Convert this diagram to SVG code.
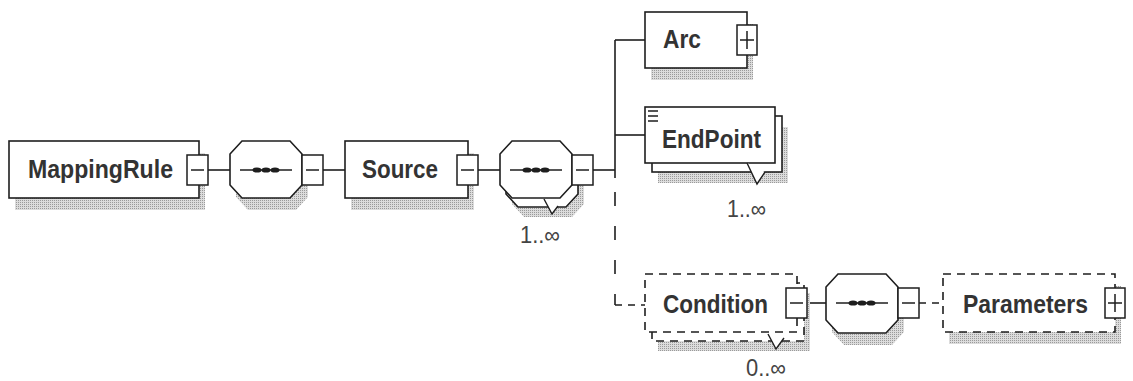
<svg xmlns="http://www.w3.org/2000/svg" width="1133" height="381" viewBox="0 0 1133 381">
<defs>
<pattern id="stip" width="2" height="2" patternUnits="userSpaceOnUse"><rect width="2" height="2" fill="#dcdcdc"/><rect width="1" height="1" fill="#9a9a9a"/></pattern>
</defs>
<style>
.bx{fill:#fff;stroke:#1e1e1e;stroke-width:1.6}
.dbx{fill:#fff;stroke:#1e1e1e;stroke-width:1.6;stroke-dasharray:8 6}
.sh{fill:url(#stip);stroke:none}
.btn{fill:#fff;stroke:#1e1e1e;stroke-width:1.5}
.sym{stroke:#1e1e1e;stroke-width:1.5;fill:none}
.ln{stroke:#1e1e1e;stroke-width:1.6;fill:none}
.dl{stroke:#1e1e1e;stroke-width:1.6;fill:none;stroke-dasharray:14 20}
.dl2{stroke:#1e1e1e;stroke-width:1.6;fill:none;stroke-dasharray:7 6}
.lbl{font-family:"Liberation Sans",Arial,sans-serif;font-weight:bold;font-size:26px;fill:#333}
.mul{font-family:"Liberation Sans",Arial,sans-serif;font-size:23px;fill:#444}
.dot{fill:#1e1e1e}
.tri{stroke:#1e1e1e;stroke-width:1.4;fill:#fff}
</style>

<g id="connectors">
<path class="ln" d="M208,170 H230"/>
<path class="ln" d="M323,170 H345"/>
<path class="ln" d="M478,170 H500"/>
<path class="ln" d="M593,170 H615"/>
<path class="ln" d="M615,40 V178"/>
<path class="ln" d="M615,40 H645"/>
<path class="ln" d="M615,135 H645"/>
<path class="dl" d="M615,192 V305"/>
<path class="dl2" d="M615,305 H645"/>
<path class="ln" d="M807,303 H826"/>
<path class="dl2" d="M919,303 H943"/>
</g>

<g id="MappingRule">
<rect class="sh" x="15" y="153" width="190" height="57"/>
<rect class="bx" x="9" y="141" width="190" height="57"/>
<text class="lbl" x="28" y="178" textLength="145" lengthAdjust="spacingAndGlyphs">MappingRule</text>
<rect class="btn" x="187" y="155" width="21" height="30"/>
<path class="sym" d="M191,170 H204"/>
</g>

<g id="sequence1">
<polygon class="sh" points="248,153 296,153 308,166 308,197 296,210 248,210 236,197 236,166"/>
<polygon class="bx" points="242,141 290,141 302,154 302,185 290,198 242,198 230,185 230,154"/>
<path class="ln" d="M240,170 H292"/>
<ellipse class="dot" cx="257" cy="170" rx="4.5" ry="2.6"/>
<ellipse class="dot" cx="266" cy="170" rx="4.5" ry="2.6"/>
<ellipse class="dot" cx="275" cy="170" rx="4.5" ry="2.6"/>
<rect class="btn" x="302" y="155" width="21" height="30"/>
<path class="sym" d="M306,170 H319"/>
</g>

<g id="Source">
<rect class="sh" x="351" y="153" width="123" height="57"/>
<rect class="bx" x="345" y="141" width="123" height="57"/>
<text class="lbl" x="362" y="178" textLength="76" lengthAdjust="spacingAndGlyphs">Source</text>
<rect class="btn" x="457" y="155" width="21" height="30"/>
<path class="sym" d="M461,170 H474"/>
</g>

<g id="sequence2">
<polygon class="sh" points="524,160 572,160 584,173 584,204 572,217 524,217 512,204 512,173"/>
<polygon class="bx" points="518,150 566,150 578,163 578,194 566,207 518,207 506,194 506,163"/>
<polygon class="bx" points="512,141 560,141 572,154 572,185 560,198 512,198 500,185 500,154"/>
<path class="ln" d="M510,170 H562"/>
<ellipse class="dot" cx="527" cy="170" rx="4.5" ry="2.6"/>
<ellipse class="dot" cx="536" cy="170" rx="4.5" ry="2.6"/>
<ellipse class="dot" cx="545" cy="170" rx="4.5" ry="2.6"/>
<rect class="btn" x="572" y="155" width="21" height="30"/>
<path class="sym" d="M576,170 H589"/>
<path class="tri" d="M544,199 L552,214 L558,206"/>
<text class="mul" x="520" y="243" textLength="40" lengthAdjust="spacingAndGlyphs">1..∞</text>
</g>

<g id="Arc">
<rect class="sh" x="651" y="24" width="102" height="56"/>
<rect class="bx" x="645" y="12" width="102" height="56"/>
<text class="lbl" x="663" y="48" textLength="38" lengthAdjust="spacingAndGlyphs">Arc</text>
<rect class="btn" x="737" y="25" width="20" height="30"/>
<path class="sym" d="M740,40 H754 M747,31 V49"/>
</g>

<g id="EndPoint">
<rect class="sh" x="658" y="127" width="130" height="56"/>
<rect class="bx" x="652" y="116" width="130" height="56"/>
<rect class="bx" x="645" y="107" width="130" height="56"/>
<path class="sym" d="M648,111 H658 M648,116 H658 M648,121 H658"/>
<text class="lbl" x="662" y="148" textLength="99" lengthAdjust="spacingAndGlyphs">EndPoint</text>
<path class="tri" d="M747,163 L757,184 L765,172"/>
<text class="mul" x="727" y="217" textLength="39" lengthAdjust="spacingAndGlyphs">1..∞</text>
</g>

<g id="Condition">
<rect class="sh" x="658" y="293" width="152" height="58"/>
<rect class="dbx" x="652" y="283" width="152" height="58"/>
<rect class="dbx" x="645" y="274" width="152" height="58"/>
<text class="lbl" x="663" y="313" textLength="105" lengthAdjust="spacingAndGlyphs">Condition</text>
<rect class="btn" x="786" y="288" width="21" height="30"/>
<path class="sym" d="M790,303 H803"/>
<path class="tri" d="M768,334 L776,349 L784,338"/>
<text class="mul" x="746" y="376" textLength="40" lengthAdjust="spacingAndGlyphs">0..∞</text>
</g>

<g id="sequence3">
<polygon class="sh" points="844,286 892,286 904,299 904,332 892,345 844,345 832,332 832,299"/>
<polygon class="bx" points="838,274 886,274 898,287 898,320 886,333 838,333 826,320 826,287"/>
<path class="ln" d="M836,303 H888"/>
<ellipse class="dot" cx="853" cy="303" rx="4.5" ry="2.6"/>
<ellipse class="dot" cx="862" cy="303" rx="4.5" ry="2.6"/>
<ellipse class="dot" cx="871" cy="303" rx="4.5" ry="2.6"/>
<rect class="btn" x="898" y="288" width="21" height="30"/>
<path class="sym" d="M902,303 H915"/>
</g>

<g id="Parameters">
<rect class="sh" x="949" y="286" width="172" height="58"/>
<rect class="dbx" x="943" y="274" width="172" height="58"/>
<text class="lbl" x="963" y="313" textLength="125" lengthAdjust="spacingAndGlyphs">Parameters</text>
<rect class="btn" x="1105" y="288" width="20" height="30"/>
<path class="sym" d="M1108,303 H1122 M1115,294 V312"/>
</g>
</svg>
